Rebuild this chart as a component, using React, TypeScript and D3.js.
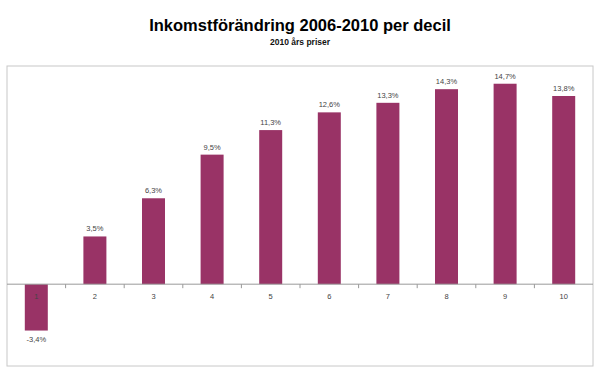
import React, { useEffect, useRef } from 'react';
import * as d3 from 'd3';

const deciles = ['1', '2', '3', '4', '5', '6', '7', '8', '9', '10'];
const changes = [-3.4, 3.5, 6.3, 9.5, 11.3, 12.6, 13.3, 14.3, 14.7, 13.8];
const title = 'Inkomstförändring 2006-2010 per decil';
const subtitle = '2010 års priser';

function App() {
  const svgRef = useRef<SVGSVGElement>(null);

  useEffect(() => {
    const width = 600;
    const height = 373;
    const svg = d3.select(svgRef.current)
      .attr('width', width)
      .attr('height', height)
      .style('display', 'block')
      .style('background', '#fff');
    svg.selectAll('*').remove();

    const left = 7, right = 593, top = 66, bottom = 366;
    const font = 'Liberation Sans, Arial, sans-serif';

    // frame
    svg.append('rect')
      .attr('x', left).attr('y', top)
      .attr('width', right - left).attr('height', bottom - top)
      .attr('fill', 'none').attr('stroke', '#c8c8c8').attr('stroke-width', 1);

    svg.append('text')
      .attr('x', width / 2).attr('y', 31)
      .attr('text-anchor', 'middle')
      .style('font-family', font)
      .style('font-weight', 'bold')
      .style('font-size', '16.5px')
      .attr('fill', '#000')
      .text(title);

    svg.append('text')
      .attr('x', width / 2).attr('y', 45)
      .attr('text-anchor', 'middle')
      .style('font-family', font)
      .style('font-size', '8.5px')
      .style('font-weight', 'bold')
      .attr('fill', '#111')
      .text(subtitle);

    const x = d3.scaleBand<string>().domain(deciles).range([left, right]);
    const step = x.step();
    const barW = 23;

    const y = d3.scaleLinear().domain([-6, 16]).range([bottom, top]);

    const g = svg.append('g');

    g.selectAll('rect.bar')
      .data(changes)
      .enter()
      .append('rect')
      .attr('class', 'bar')
      .attr('x', (d, i) => x(deciles[i])! + (step - barW) / 2)
      .attr('width', barW)
      .attr('y', d => y(Math.max(0, d)))
      .attr('height', d => Math.abs(y(d) - y(0)))
      .attr('fill', '#993366');

    // zero axis with tick marks between categories
    g.append('line')
      .attr('x1', left).attr('x2', right)
      .attr('y1', y(0)).attr('y2', y(0))
      .attr('stroke', '#999');

    g.selectAll('line.tick-mark')
      .data(deciles.slice(1))
      .enter()
      .append('line')
      .attr('x1', d => x(d)!)
      .attr('x2', d => x(d)!)
      .attr('y1', y(0))
      .attr('y2', y(0) + 4)
      .attr('stroke', '#999');

    g.selectAll('text.cat')
      .data(deciles)
      .enter()
      .append('text')
      .attr('x', d => x(d)! + step / 2)
      .attr('y', y(0) + 15)
      .attr('text-anchor', 'middle')
      .style('font-family', font)
      .style('font-size', '7.5px')
      .attr('fill', '#444')
      .text(d => d);

    g.selectAll('text.val')
      .data(changes)
      .enter()
      .append('text')
      .attr('x', (d, i) => x(deciles[i])! + step / 2)
      .attr('y', d => (d >= 0 ? y(d) - 5 : y(d) + 11))
      .attr('text-anchor', 'middle')
      .style('font-family', font)
      .style('font-size', '7.5px')
      .attr('fill', '#444')
      .text(d => d.toFixed(1).replace('.', ',') + '%');
  }, []);

  return (
    <div style={{ position: 'absolute', left: 0, top: 0 }}>
      <svg ref={svgRef}></svg>
    </div>
  );
}

export default App;
